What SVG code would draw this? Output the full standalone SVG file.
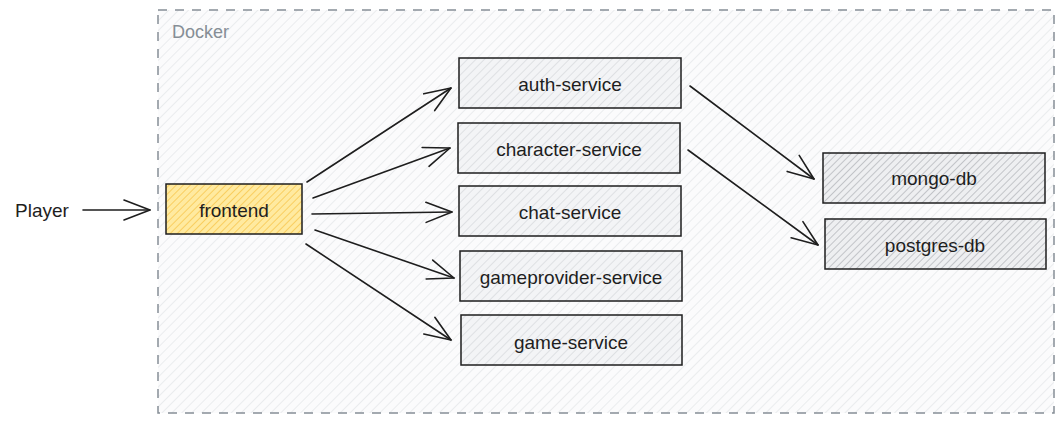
<svg xmlns="http://www.w3.org/2000/svg" width="1064" height="423" viewBox="0 0 1064 423">
<defs>
<pattern id="hBg" width="7" height="7" patternUnits="userSpaceOnUse" patternTransform="rotate(45)">
<rect width="7" height="7" fill="#fbfbfc"/>
<line x1="0" y1="0" x2="0" y2="7" stroke="#e3e6e9" stroke-width="1.4"/>
</pattern>
<pattern id="hNode" width="6" height="6" patternUnits="userSpaceOnUse" patternTransform="rotate(45)">
<rect width="6" height="6" fill="#f3f4f6"/>
<line x1="0" y1="0" x2="0" y2="6" stroke="#d3d6da" stroke-width="1.3"/>
</pattern>
<pattern id="hDb" width="5" height="5" patternUnits="userSpaceOnUse" patternTransform="rotate(45)">
<rect width="5" height="5" fill="#eeeff1"/>
<line x1="0" y1="0" x2="0" y2="5" stroke="#a4a8ad" stroke-width="1.2"/>
</pattern>
<pattern id="hYel" width="5" height="5" patternUnits="userSpaceOnUse" patternTransform="rotate(45)">
<rect width="5" height="5" fill="#ffeaa0"/>
<line x1="0" y1="0" x2="0" y2="5" stroke="#f7c244" stroke-width="1.4"/>
</pattern>
<marker id="ah" viewBox="0 0 30 30" refX="28" refY="15" markerWidth="30" markerHeight="30" markerUnits="userSpaceOnUse" orient="auto">
<path d="M2,5 L28,15 L2,25" fill="none" stroke="#1e1e1e" stroke-width="1.6" stroke-linecap="round" stroke-linejoin="round"/>
</marker>
</defs>
<style>
.box{stroke:#1e1e1e;stroke-width:1.5;}
.lbl{font-family:"Liberation Sans",Arial,sans-serif;font-size:19px;fill:#1e1e1e;text-anchor:middle;dominant-baseline:central;}
.conn{fill:none;stroke:#1e1e1e;stroke-width:1.6;stroke-linecap:round;marker-end:url(#ah);}
</style>
<rect width="1064" height="423" fill="#ffffff"/>
<g id="docker">
<rect x="158" y="10" width="896" height="403" fill="url(#hBg)" stroke="#868e96" stroke-width="1.5" stroke-dasharray="9,8"/>
<text x="172" y="38" style="font-family:'Liberation Sans',Arial,sans-serif;font-size:18px;fill:#868e96;">Docker</text>
</g>
<g id="player">
<text class="lbl" x="42" y="210">Player</text>
</g>
<g id="frontend">
<rect class="box" x="166" y="184" width="136" height="50" fill="url(#hYel)"/>
<text class="lbl" x="234" y="210">frontend</text>
</g>
<g id="auth-service">
<rect class="box" x="459" y="58" width="222" height="50" fill="url(#hNode)"/>
<text class="lbl" x="570" y="84">auth-service</text>
</g>
<g id="character-service">
<rect class="box" x="458" y="123" width="222" height="50" fill="url(#hNode)"/>
<text class="lbl" x="569" y="149">character-service</text>
</g>
<g id="chat-service">
<rect class="box" x="459" y="186" width="222" height="50" fill="url(#hNode)"/>
<text class="lbl" x="570" y="212">chat-service</text>
</g>
<g id="gameprovider-service">
<rect class="box" x="460" y="251" width="222" height="50" fill="url(#hNode)"/>
<text class="lbl" x="571" y="277">gameprovider-service</text>
</g>
<g id="game-service">
<rect class="box" x="461" y="315" width="221" height="50" fill="url(#hNode)"/>
<text class="lbl" x="571" y="342">game-service</text>
</g>
<g id="mongo-db">
<rect class="box" x="823" y="153" width="222" height="50" fill="url(#hDb)"/>
<text class="lbl" x="934" y="178">mongo-db</text>
</g>
<g id="postgres-db">
<rect class="box" x="825" y="219" width="221" height="50" fill="url(#hDb)"/>
<text class="lbl" x="935" y="245">postgres-db</text>
</g>
<g id="connectors">
<path class="conn" d="M83,210 L150,210"/>
<path class="conn" d="M307,182 L451,88"/>
<path class="conn" d="M313,198 L450,148"/>
<path class="conn" d="M312,214 L452,212"/>
<path class="conn" d="M315,230 L454,278"/>
<path class="conn" d="M306,244 L451,340"/>
<path class="conn" d="M690,86 L814,179"/>
<path class="conn" d="M688,150 L818,245"/>
</g>
</svg>
